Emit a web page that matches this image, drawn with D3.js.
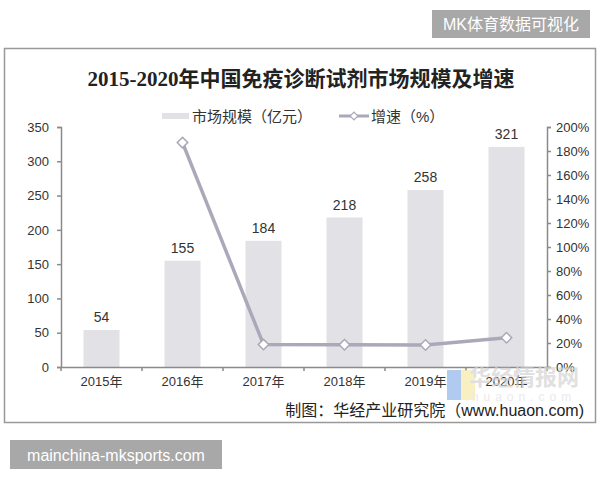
<!DOCTYPE html>
<html><head><meta charset="utf-8">
<script src="https://cdn.jsdelivr.net/npm/d3@7"></script>
<style>
body{margin:0;background:#fff;}
svg text{font-family:"Liberation Sans",Arial,"Noto Sans CJK SC",sans-serif;}
</style></head>
<body><svg id="c" width="600" height="480"></svg>
<script>
const categories = ["2015年","2016年","2017年","2018年","2019年","2020年"];
const marketSize = [54,155,184,218,258,321];
const growth = [null,187,18.7,18.5,18.3,24.4];
const leftTicks = [0,50,100,150,200,250,300,350];
const rightTicks = [0,20,40,60,80,100,120,140,160,180,200];

const svg = d3.select("#c");
const font = '"Liberation Sans",Arial,"Noto Sans CJK SC",sans-serif';

// top-right badge
svg.append("rect").attr("x",432).attr("y",10).attr("width",158).attr("height",28).attr("fill","#a8a8a8");
svg.append("text").attr("x",511).attr("y",24.5).attr("text-anchor","middle").attr("dominant-baseline","central")
  .attr("fill","#fff").attr("font-size",16).text("MK体育数据可视化");

// frame
svg.append("rect").attr("x",4.5).attr("y",48.5).attr("width",591).attr("height",374).attr("fill","#fff")
  .attr("stroke","#999").attr("stroke-width",1.5);

// title
svg.append("text").attr("x",301).attr("y",79).attr("text-anchor","middle").attr("dominant-baseline","central")
  .attr("font-size",21).attr("font-weight","bold").attr("fill","#222")
  .style("font-family",'"Liberation Serif","DejaVu Serif","Noto Sans CJK SC",serif')
  .text("2015-2020年中国免疫诊断试剂市场规模及增速");

const x = d3.scaleBand().domain(categories).range([61,547]).paddingInner(0.556).paddingOuter(0.278);
const yL = d3.scaleLinear().domain([0,350]).range([367,127]);
const yR = d3.scaleLinear().domain([0,200]).range([367,127]);

// bars
svg.selectAll(".bar").data(marketSize).join("rect")
  .attr("x",(d,i)=>x(categories[i])).attr("width",x.bandwidth())
  .attr("y",d=>yL(d)).attr("height",d=>yL(0)-yL(d)).attr("fill","#e1e1e6");

svg.selectAll(".bl").data(marketSize).join("text")
  .attr("x",(d,i)=>x(categories[i])+x.bandwidth()/2).attr("y",d=>yL(d)-13)
  .attr("text-anchor","middle").attr("dominant-baseline","central").attr("font-size",14).attr("fill","#333").text(d=>d);

// axes
const axisColor = "#8a8a8a";
const gL = svg.append("g").attr("transform","translate(61,0)")
  .call(d3.axisLeft(yL).tickValues(leftTicks).tickSize(4).tickSizeOuter(4));
const gR = svg.append("g").attr("transform","translate(547,0)")
  .call(d3.axisRight(yR).tickValues(rightTicks).tickSize(4).tickSizeOuter(4).tickFormat(d=>d+"%"));
const gX = svg.append("g").attr("transform","translate(0,367)")
  .call(d3.axisBottom(x).tickSize(0).tickSizeOuter(0));
const step = x.step();
svg.selectAll(".xt").data(d3.range(categories.length+1)).join("line")
  .attr("x1",i=>61+i*step).attr("x2",i=>61+i*step).attr("y1",367).attr("y2",371)
  .attr("stroke",axisColor).attr("stroke-width",1.5);
[gL,gR,gX].forEach(g=>{
  g.selectAll("path,line").attr("stroke",axisColor).attr("stroke-width",1.5);
  g.selectAll("text").attr("fill","#333").attr("font-size",13).style("font-family",font);
});
gX.selectAll("text").attr("dy","1.2em");
gL.selectAll("text").attr("dx","-5");
gR.selectAll("text").attr("dx","2");

// line
const pts = growth.map((v,i)=>({v,c:categories[i]})).filter(d=>d.v!==null);
const line = d3.line().x(d=>x(d.c)+x.bandwidth()/2).y(d=>yR(d.v));
svg.append("path").datum(pts).attr("d",line).attr("fill","none").attr("stroke","#a9a9ba").attr("stroke-width",3.5);
svg.selectAll(".mk").data(pts).join("path")
  .attr("d",d3.symbol().type(d3.symbolSquare).size(55))
  .attr("transform",d=>`translate(${x(d.c)+x.bandwidth()/2},${yR(d.v)}) rotate(45)`)
  .attr("fill","#fff").attr("stroke","#a9a9ba").attr("stroke-width",1.5);

// legend
const ly = 116;
svg.append("rect").attr("x",162).attr("y",ly-3).attr("width",27).attr("height",6).attr("fill","#e1e1e6");
svg.append("text").attr("x",192).attr("y",ly).attr("dominant-baseline","central").attr("font-size",15).attr("fill","#333")
  .text("市场规模（亿元）");
svg.append("line").attr("x1",339).attr("x2",369).attr("y1",ly).attr("y2",ly).attr("stroke","#a9a9ba").attr("stroke-width",3);
svg.append("path").attr("d",d3.symbol().type(d3.symbolSquare).size(30))
  .attr("transform",`translate(354,${ly}) rotate(45)`).attr("fill","#fff").attr("stroke","#a9a9ba").attr("stroke-width",1.2);
svg.append("text").attr("x",371).attr("y",ly).attr("dominant-baseline","central").attr("font-size",15).attr("fill","#333")
  .text("增速（%）");

// watermark
const wm = svg.append("g").attr("opacity",0.7);
wm.append("rect").attr("x",447).attr("y",370).attr("width",14).attr("height",30).attr("fill","#8fb4ea");
wm.append("rect").attr("x",461).attr("y",370).attr("width",14).attr("height",30).attr("fill","#f7eaa8");
wm.append("text").attr("x",524).attr("y",377).attr("text-anchor","middle").attr("dominant-baseline","central")
  .attr("font-size",22).attr("font-weight","bold").attr("fill","#d4d4d4").text("华经情报网");
wm.append("text").attr("x",524).attr("y",397).attr("text-anchor","middle").attr("dominant-baseline","central")
  .attr("font-size",12).attr("letter-spacing","5").attr("fill","#e2e2e2").text("huaon.com");

// source
svg.append("text").attr("x",584).attr("y",410).attr("text-anchor","end").attr("dominant-baseline","central")
  .attr("font-size",16).attr("fill","#222").text("制图：华经产业研究院（www.huaon.com)");

// bottom-left badge
svg.append("rect").attr("x",10).attr("y",440).attr("width",212).attr("height",29).attr("fill","#a8a8a8");
svg.append("text").attr("x",116).attr("y",455).attr("text-anchor","middle").attr("dominant-baseline","central")
  .attr("fill","#fff").attr("font-size",16).text("mainchina-mksports.com");
</script></body></html>
